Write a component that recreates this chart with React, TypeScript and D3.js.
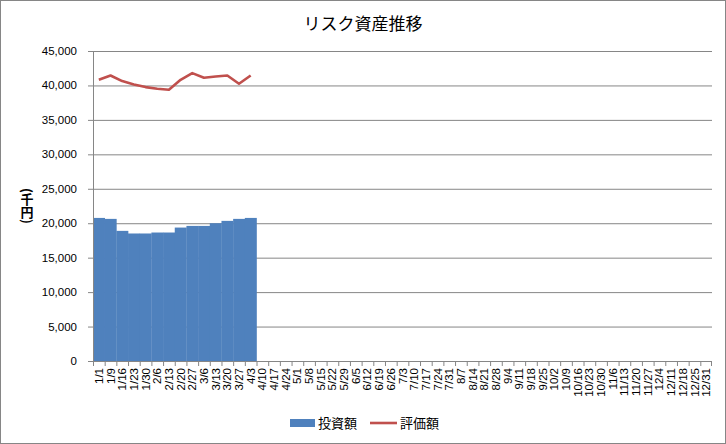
import React from 'react';
import * as d3 from 'd3';

// weekly dates on the x axis
const categories: string[] = [
  '1/1', '1/9', '1/16', '1/23', '1/30', '2/6', '2/13', '2/20', '2/27', '3/6', '3/13', '3/20', '3/27',
  '4/3', '4/10', '4/17', '4/24', '5/1', '5/8', '5/15', '5/22', '5/29', '6/5', '6/12', '6/19', '6/26',
  '7/3', '7/10', '7/17', '7/24', '7/31', '8/7', '8/14', '8/21', '8/28', '9/4', '9/11', '9/18', '9/25',
  '10/2', '10/9', '10/16', '10/23', '10/30', '11/6', '11/13', '11/20', '11/27', '12/4', '12/11',
  '12/18', '12/25', '12/31',
];

// 投資額 (bars)
const investment: number[] = [
  20770, 20630, 18890, 18510, 18510, 18650, 18650, 19370, 19610, 19610, 20000, 20340, 20630, 20770,
];

// 評価額 (line)
const valuation: number[] = [
  40820, 41450, 40630, 40150, 39760, 39520, 39370, 40820, 41790, 41110, 41300, 41450, 40240, 41450,
];

const yTicks: number[] = [0, 5000, 10000, 15000, 20000, 25000, 30000, 35000, 40000, 45000];

const W = 726;
const H = 444;
const margin = { top: 51, right: 14, bottom: 83, left: 93 };

const App: React.FC = () => {
  const x = d3.scaleBand<string>()
    .domain(categories)
    .range([margin.left, W - margin.right])
    .padding(0);

  const y = d3.scaleLinear()
    .domain([0, 45000])
    .range([H - margin.bottom, margin.top]);

  const bw = x.bandwidth();
  const fmt = d3.format(',');

  const line = d3.line<number>()
    .x((_d, i) => (x(categories[i]) as number) + bw / 2)
    .y((d) => y(d));

  const x0 = margin.left;
  const x1 = W - margin.right;
  const yBase = H - margin.bottom;
  const grid = '#868686';
  const jp = "'Noto Sans CJK JP', sans-serif";

  return (
    <svg width={W} height={H} style={{ position: 'absolute', left: 0, top: 0, background: '#fff' }}>
      <rect x={0.5} y={0.5} width={W - 1} height={H - 1} fill="#fff" stroke="#868686" />

      <text x={363} y={30} textAnchor="middle" fontFamily={jp} fontSize={17}>
        リスク資産推移
      </text>

      {/* gridlines + y labels */}
      {yTicks.map((t) => (
        <g key={t}>
          {t > 0 && <line x1={x0} x2={x1} y1={y(t) + 0.5} y2={y(t) + 0.5} stroke={grid} />}
          <line x1={x0 - 5} x2={x0} y1={y(t) + 0.5} y2={y(t) + 0.5} stroke={grid} />
          <text x={77} y={y(t)} dy="0.35em" textAnchor="end" fontFamily="'Liberation Sans', Arial, sans-serif" fontSize={11.5}>
            {fmt(t)}
          </text>
        </g>
      ))}

      {/* vertical axis title */}
      <text
        x={27}
        y={206}
        textAnchor="middle"
        fontFamily={jp}
        fontSize={13}
        fontWeight="bold"
        style={{ writingMode: 'vertical-rl' }}
      >
        (千円)
      </text>

      {/* bars */}
      {investment.map((v, i) => (
        <rect
          key={categories[i]}
          x={x(categories[i])}
          y={y(v)}
          width={bw + 0.3}
          height={yBase - y(v)}
          fill="#4F81BD"
        />
      ))}

      {/* axes */}
      <line x1={x0 + 0.5} x2={x0 + 0.5} y1={margin.top} y2={yBase} stroke={grid} />
      <line x1={x0} x2={x1} y1={yBase + 0.5} y2={yBase + 0.5} stroke={grid} />
      {categories.map((c) => (
        <line key={'t' + c} x1={(x(c) as number) + 0.5} x2={(x(c) as number) + 0.5} y1={yBase} y2={yBase + 5} stroke={grid} />
      ))}
      <line x1={x1 - 0.5} x2={x1 - 0.5} y1={yBase} y2={yBase + 5} stroke={grid} />
      {categories.map((c) => (
        <text
          key={'l' + c}
          transform={`translate(${(x(c) as number) + bw / 2},${yBase + 7}) rotate(-90)`}
          dy="0.35em"
          textAnchor="end"
          fontFamily="'Liberation Sans', Arial, sans-serif"
          fontSize={11.5}
        >
          {c}
        </text>
      ))}

      {/* line */}
      <path d={line(valuation) || ''} fill="none" stroke="#C0504D" strokeWidth={2.6} strokeLinejoin="round" />

      {/* legend */}
      <rect x={290} y={419} width={25} height={8} fill="#4F81BD" />
      <text x={318} y={423} dy="0.35em" fontFamily={jp} fontSize={13}>投資額</text>
      <line x1={370} x2={397} y1={423} y2={423} stroke="#C0504D" strokeWidth={2.6} />
      <text x={400} y={423} dy="0.35em" fontFamily={jp} fontSize={13}>評価額</text>
    </svg>
  );
};

export default App;
